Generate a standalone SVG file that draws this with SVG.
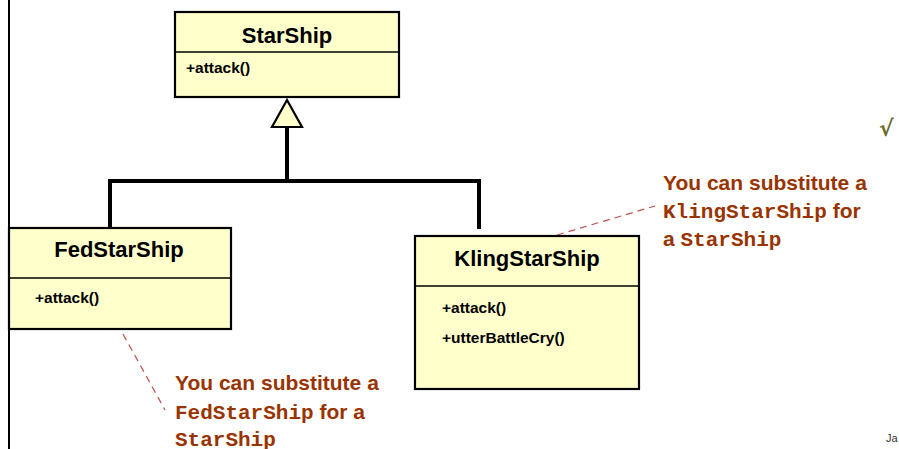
<svg xmlns="http://www.w3.org/2000/svg" width="899" height="449" viewBox="0 0 899 449">
<style>
.box{fill:#ffffcc;stroke:#000;stroke-width:2.2}
.div{stroke:#000;stroke-width:1.5}
.title{font-family:"Liberation Sans",Arial,sans-serif;font-weight:bold;font-size:22px;fill:#000;text-anchor:middle}
.op{font-family:"Liberation Sans",Arial,sans-serif;font-weight:bold;font-size:15.5px;fill:#000}
.conn{stroke:#000;stroke-width:4;fill:none}
.callout{stroke:#c0504d;stroke-width:1.2;stroke-dasharray:7,5;fill:none}
.note{font-family:"Liberation Sans",Arial,sans-serif;font-weight:bold;font-size:21px;fill:#993300}
.mono{font-family:"Liberation Mono","Courier New",monospace;font-weight:bold;font-size:21px}
</style>
<rect width="899" height="449" fill="#fff"/>
<line x1="9" y1="0" x2="9" y2="449" stroke="#000" stroke-width="2"/>
<g id="connectors">
<polyline class="conn" points="110,229 110,181 479,181 479,229"/>
<line class="conn" x1="287" y1="181" x2="287" y2="127"/>
<polygon points="287,100 302,127 272,127" fill="#ffffcc" stroke="#000" stroke-width="2.2"/>
<line class="callout" x1="557" y1="235" x2="655" y2="206"/>
<line class="callout" x1="123" y1="334" x2="165" y2="410"/>
</g>
<g id="StarShip">
<rect class="box" x="175" y="12" width="224" height="85"/>
<line class="div" x1="175" y1="52" x2="399" y2="52"/>
<text class="title" x="287" y="43">StarShip</text>
<text class="op" x="186" y="73">+attack()</text>
</g>
<g id="FedStarShip">
<rect class="box" x="9" y="228" width="222" height="101"/>
<line class="div" x1="9" y1="278" x2="231" y2="278"/>
<text class="title" x="119" y="257">FedStarShip</text>
<text class="op" x="35" y="303">+attack()</text>
</g>
<g id="KlingStarShip">
<rect class="box" x="415" y="236" width="224" height="153"/>
<line class="div" x1="415" y1="286" x2="639" y2="286"/>
<text class="title" x="527" y="266">KlingStarShip</text>
<text class="op" x="442" y="313">+attack()</text>
<text class="op" x="442" y="343">+utterBattleCry()</text>
</g>
<g id="note-kling">
<text class="note" x="663" y="190">You can substitute a</text>
<text class="note" x="663" y="218"><tspan class="mono">KlingStarShip</tspan> for</text>
<text class="note" x="663" y="246">a <tspan class="mono">StarShip</tspan></text>
</g>
<g id="note-fed">
<text class="note" x="175" y="390">You can substitute a</text>
<text class="note" x="175" y="419"><tspan class="mono">FedStarShip</tspan> for a</text>
<text class="note" x="175" y="446"><tspan class="mono">StarShip</tspan></text>
</g>
<text x="879" y="136" font-family="DejaVu Sans,sans-serif" font-weight="bold" font-size="22" fill="#6b6b2a">√</text>
<text x="886" y="442" font-family="Liberation Sans,Arial,sans-serif" font-size="11" fill="#333">Ja</text>
</svg>
